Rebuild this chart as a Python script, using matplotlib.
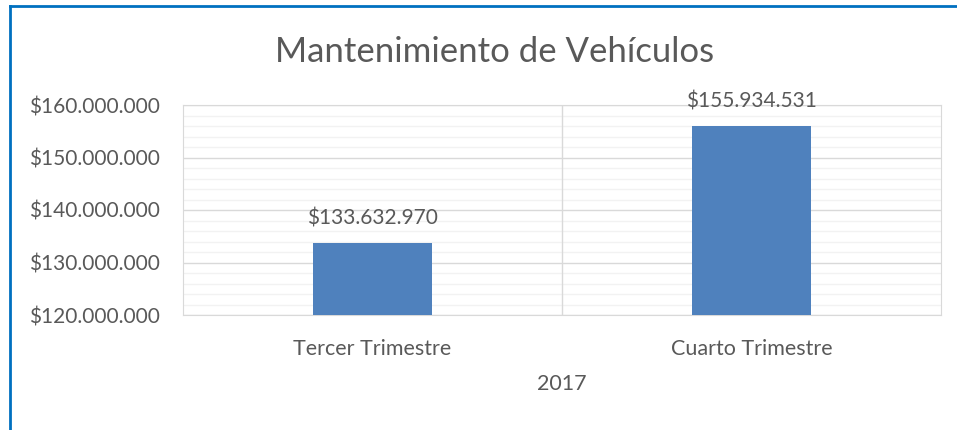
import matplotlib.pyplot as plt
import numpy as np
from matplotlib.ticker import FuncFormatter, MultipleLocator

categories = ["Tercer Trimestre", "Cuarto Trimestre"]
values = [133632970, 155934531]
year_label = "2017"
title = "Mantenimiento de Vehículos"

def pesos(v, pos=None):
    return "$" + "{:,.0f}".format(v).replace(",", ".")

plt.rcParams['font.family'] = ['Lato', 'DejaVu Sans']
text_color = '#595959'

fig = plt.figure(figsize=(9.57, 4.30), dpi=100)
ax = fig.add_axes([183 / 957, 1 - 315 / 430, (941 - 183) / 957, (315 - 105) / 430])

index = np.arange(len(categories))
ax.bar(index, values, 0.314, color='#4F81BD', zorder=3)

ax.set_xlim(-0.5, len(categories) - 0.5)
ax.set_ylim(120000000, 160000000)
ax.yaxis.set_major_locator(MultipleLocator(10000000))
ax.yaxis.set_minor_locator(MultipleLocator(2000000))
ax.yaxis.set_major_formatter(FuncFormatter(pesos))
ax.grid(which='minor', axis='y', color='#F2F2F2', linewidth=1.0, zorder=1)
ax.grid(which='major', axis='y', color='#D9D9D9', linewidth=1.0, zorder=2)
for b in np.arange(0.5, len(categories) - 0.5, 1):
    ax.axvline(b, color='#D9D9D9', linewidth=1.0, zorder=2)

for s in ax.spines.values():
    s.set_color('#D9D9D9')
ax.tick_params(which='both', length=0)
ax.tick_params(axis='y', labelsize=15, labelcolor=text_color, pad=16.5)
ax.tick_params(axis='x', labelsize=15.5, labelcolor=text_color, pad=17)
ax.set_xticks(index)
ax.set_xticklabels(categories)
ax.set_xlabel(year_label, fontsize=15.5, color=text_color, labelpad=11)

for i, v in zip(index, values):
    ax.annotate(pesos(v), (i, v), xytext=(0, 11), textcoords='offset points',
                ha='center', va='bottom', fontsize=15, color=text_color)

fig.text(495 / 957, 1 - 52 / 430, title, ha='center', va='center',
         fontsize=25, color=text_color)

# blue frame on left and top
fig.add_artist(plt.Line2D([10 / 957, 10 / 957], [0, 1 - 6 / 430], color='#0070C0',
                          linewidth=2, transform=fig.transFigure))
fig.add_artist(plt.Line2D([10 / 957, 1], [1 - 6 / 430, 1 - 6 / 430], color='#0070C0',
                          linewidth=2, transform=fig.transFigure))

plt.savefig('out.png', dpi=100)
